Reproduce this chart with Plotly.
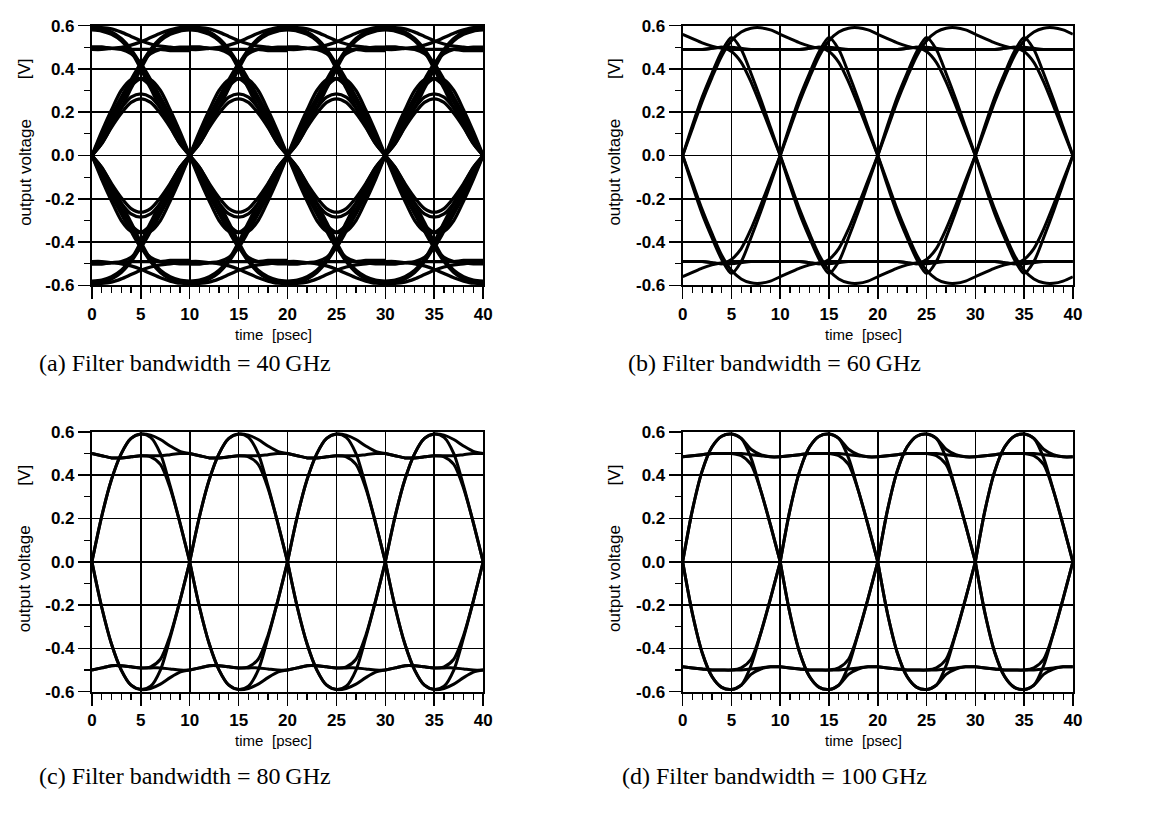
import plotly.graph_objects as go

# ---------------- data ----------------
t_bit = [0, 1, 2, 3, 4, 5, 6, 7, 8, 9, 10]          # psec inside one bit slot
period_starts = [0, 10, 20, 30]                      # bit slots shown
x_tick_vals = [0, 5, 10, 15, 20, 25, 30, 35, 40]
y_tick_vals = [-0.6, -0.4, -0.2, 0.0, 0.2, 0.4, 0.6]
y_tick_text = ["-0.6", "-0.4", "-0.2", "0.0", "0.2", "0.4", "0.6"]
captions = ["(a) Filter bandwidth = 40\u2009GHz", "(b) Filter bandwidth = 60\u2009GHz",
            "(c) Filter bandwidth = 80\u2009GHz", "(d) Filter bandwidth = 100\u2009GHz"]

# (a) 40 GHz : trace segments over one slot [V]
a_rise        = [0.00, 0.08, 0.165, 0.25, 0.335, 0.42, 0.49, 0.54, 0.57, 0.585, 0.59]
a_rise_b      = [0.00, 0.055, 0.135, 0.22, 0.31, 0.40, 0.48, 0.53, 0.56, 0.575, 0.58]
a_fall        = [0.59, 0.585, 0.57, 0.54, 0.49, 0.42, 0.335, 0.25, 0.165, 0.08, 0.00]
a_fall_b      = [0.58, 0.575, 0.56, 0.53, 0.48, 0.40, 0.31, 0.22, 0.135, 0.055, 0.00]
a_rise_flat   = [0.00, 0.095, 0.185, 0.27, 0.35, 0.425, 0.47, 0.49, 0.495, 0.50, 0.50]
a_flat_fall   = [0.50, 0.50, 0.495, 0.49, 0.47, 0.425, 0.35, 0.27, 0.185, 0.095, 0.00]
a_arc_low     = [0.00, 0.07, 0.15, 0.22, 0.27, 0.285, 0.27, 0.22, 0.15, 0.07, 0.00]
a_arc_low2    = [0.00, 0.055, 0.13, 0.195, 0.245, 0.262, 0.245, 0.195, 0.13, 0.055, 0.00]
a_arc_mid     = [0.00, 0.08, 0.165, 0.25, 0.32, 0.355, 0.35, 0.30, 0.21, 0.11, 0.00]
a_arc_mid2    = [0.00, 0.11, 0.21, 0.30, 0.35, 0.355, 0.32, 0.25, 0.165, 0.08, 0.00]
a_top_settle  = [0.59, 0.59, 0.585, 0.57, 0.55, 0.53, 0.515, 0.505, 0.50, 0.495, 0.49]
a_flat        = [0.50, 0.50, 0.495, 0.495, 0.49, 0.49, 0.49, 0.49, 0.485, 0.485, 0.485]
a_flat_rise   = [0.49, 0.49, 0.495, 0.50, 0.51, 0.525, 0.545, 0.565, 0.58, 0.59, 0.59]
a_rise_n      = [0.00, -0.08, -0.165, -0.25, -0.335, -0.42, -0.49, -0.54, -0.57, -0.585, -0.59]
a_rise_b_n    = [0.00, -0.055, -0.135, -0.22, -0.31, -0.40, -0.48, -0.53, -0.56, -0.575, -0.58]
a_fall_n      = [-0.59, -0.585, -0.57, -0.54, -0.49, -0.42, -0.335, -0.25, -0.165, -0.08, 0.00]
a_fall_b_n    = [-0.58, -0.575, -0.56, -0.53, -0.48, -0.40, -0.31, -0.22, -0.135, -0.055, 0.00]
a_rise_flat_n = [0.00, -0.095, -0.185, -0.27, -0.35, -0.425, -0.47, -0.49, -0.495, -0.50, -0.50]
a_flat_fall_n = [-0.50, -0.50, -0.495, -0.49, -0.47, -0.425, -0.35, -0.27, -0.185, -0.095, 0.00]
a_arc_low_n   = [0.00, -0.07, -0.15, -0.22, -0.27, -0.285, -0.27, -0.22, -0.15, -0.07, 0.00]
a_arc_low2_n  = [0.00, -0.055, -0.13, -0.195, -0.245, -0.262, -0.245, -0.195, -0.13, -0.055, 0.00]
a_arc_mid_n   = [0.00, -0.08, -0.165, -0.25, -0.32, -0.355, -0.35, -0.30, -0.21, -0.11, 0.00]
a_arc_mid2_n  = [0.00, -0.11, -0.21, -0.30, -0.35, -0.355, -0.32, -0.25, -0.165, -0.08, 0.00]
a_top_settle_n = [-0.59, -0.59, -0.585, -0.57, -0.55, -0.53, -0.515, -0.505, -0.50, -0.495, -0.49]
a_flat_n      = [-0.50, -0.50, -0.495, -0.495, -0.49, -0.49, -0.49, -0.49, -0.485, -0.485, -0.485]
a_flat_rise_n = [-0.49, -0.49, -0.495, -0.50, -0.51, -0.525, -0.545, -0.565, -0.58, -0.59, -0.59]

# (b) 60 GHz
b_arc         = [0.00, 0.14, 0.27, 0.38, 0.48, 0.545, 0.49, 0.38, 0.26, 0.13, 0.00]
b_rise_hold   = [0.00, 0.125, 0.25, 0.36, 0.46, 0.53, 0.57, 0.588, 0.59, 0.58, 0.56]
b_after_peak  = [0.56, 0.54, 0.52, 0.505, 0.495, 0.49, 0.49, 0.49, 0.49, 0.49, 0.49]
b_hold        = [0.49, 0.49, 0.49, 0.495, 0.50, 0.50, 0.495, 0.49, 0.49, 0.49, 0.49]
b_hold_fall   = [0.49, 0.49, 0.49, 0.495, 0.50, 0.48, 0.43, 0.34, 0.23, 0.115, 0.00]
b_arc_n       = [0.00, -0.14, -0.27, -0.38, -0.48, -0.545, -0.49, -0.38, -0.26, -0.13, 0.00]
b_rise_hold_n = [0.00, -0.125, -0.25, -0.36, -0.46, -0.53, -0.57, -0.588, -0.59, -0.58, -0.56]
b_after_peak_n = [-0.56, -0.54, -0.52, -0.505, -0.495, -0.49, -0.49, -0.49, -0.49, -0.49, -0.49]
b_hold_n      = [-0.49, -0.49, -0.49, -0.495, -0.50, -0.50, -0.495, -0.49, -0.49, -0.49, -0.49]
b_hold_fall_n = [-0.49, -0.49, -0.49, -0.495, -0.50, -0.48, -0.43, -0.34, -0.23, -0.115, 0.00]

# (c) 80 GHz
c_arc         = [0.00, 0.21, 0.38, 0.50, 0.57, 0.59, 0.575, 0.50, 0.35, 0.18, 0.00]
c_rise_hold   = [0.00, 0.21, 0.38, 0.50, 0.57, 0.59, 0.585, 0.565, 0.535, 0.51, 0.50]
c_hold_fall   = [0.50, 0.49, 0.48, 0.48, 0.485, 0.49, 0.485, 0.45, 0.34, 0.18, 0.00]
c_hold        = [0.50, 0.49, 0.48, 0.48, 0.485, 0.49, 0.49, 0.49, 0.495, 0.50, 0.50]
c_arc_n       = [0.00, -0.21, -0.38, -0.50, -0.57, -0.59, -0.575, -0.50, -0.35, -0.18, 0.00]
c_rise_hold_n = [0.00, -0.21, -0.38, -0.50, -0.57, -0.59, -0.585, -0.565, -0.535, -0.51, -0.50]
c_hold_fall_n = [-0.50, -0.49, -0.48, -0.48, -0.485, -0.49, -0.485, -0.45, -0.34, -0.18, 0.00]
c_hold_n      = [-0.50, -0.49, -0.48, -0.48, -0.485, -0.49, -0.49, -0.49, -0.495, -0.50, -0.50]

# (d) 100 GHz
d_arc         = [0.00, 0.24, 0.42, 0.53, 0.58, 0.59, 0.57, 0.48, 0.33, 0.17, 0.00]
d_rise_hold   = [0.00, 0.24, 0.42, 0.53, 0.58, 0.59, 0.57, 0.52, 0.495, 0.485, 0.485]
d_hold_fall   = [0.485, 0.49, 0.495, 0.50, 0.50, 0.50, 0.49, 0.45, 0.33, 0.17, 0.00]
d_hold        = [0.485, 0.49, 0.495, 0.50, 0.50, 0.50, 0.50, 0.495, 0.49, 0.485, 0.485]
d_arc_n       = [0.00, -0.24, -0.42, -0.53, -0.58, -0.59, -0.57, -0.48, -0.33, -0.17, 0.00]
d_rise_hold_n = [0.00, -0.24, -0.42, -0.53, -0.58, -0.59, -0.57, -0.52, -0.495, -0.485, -0.485]
d_hold_fall_n = [-0.485, -0.49, -0.495, -0.50, -0.50, -0.50, -0.49, -0.45, -0.33, -0.17, 0.00]
d_hold_n      = [-0.485, -0.49, -0.495, -0.50, -0.50, -0.50, -0.50, -0.495, -0.49, -0.485, -0.485]

panel_a = [a_rise, a_rise_b, a_fall, a_fall_b, a_rise_flat, a_flat_fall, a_arc_low, a_arc_low2,
           a_arc_mid, a_arc_mid2, a_top_settle, a_flat, a_flat_rise,
           a_rise_n, a_rise_b_n, a_fall_n, a_fall_b_n, a_rise_flat_n, a_flat_fall_n, a_arc_low_n,
           a_arc_low2_n, a_arc_mid_n, a_arc_mid2_n, a_top_settle_n, a_flat_n, a_flat_rise_n]
panel_b = [b_arc, b_rise_hold, b_after_peak, b_hold, b_hold_fall,
           b_arc_n, b_rise_hold_n, b_after_peak_n, b_hold_n, b_hold_fall_n]
panel_c = [c_arc, c_rise_hold, c_hold_fall, c_hold, c_arc_n, c_rise_hold_n, c_hold_fall_n, c_hold_n]
panel_d = [d_arc, d_rise_hold, d_hold_fall, d_hold, d_arc_n, d_rise_hold_n, d_hold_fall_n, d_hold_n]

# ---------------- figure ----------------
W, H = 1154, 815
SANS = "Liberation Sans, Arial, sans-serif"
SERIF = "Liberation Serif, DejaVu Serif, serif"

# plot-area boxes in pixels: (left, right, top, bottom)
boxes = [(88, 484, 17, 283), (686, 1081, 17, 283), (88, 484, 433, 699), (686, 1081, 433, 699)]
panels = [panel_a, panel_b, panel_c, panel_d]
widths = [3.3, 3.0, 3.0, 3.0]

fig = go.Figure()
layout = dict(width=W, height=H, margin=dict(l=0, r=0, t=0, b=0), hovermode=False,
              paper_bgcolor="white", plot_bgcolor="white", showlegend=False)

for i, (segs, box) in enumerate(zip(panels, boxes)):
    xs, ys = [], []
    for s in period_starts:
        for seg in segs:
            xs += [s + t for t in t_bit] + [None]
            ys += list(seg) + [None]
    n = "" if i == 0 else str(i + 1)
    fig.add_trace(go.Scatter(x=xs, y=ys, mode="lines", xaxis="x" + n, yaxis="y" + n,
                             line=dict(color="black", width=widths[i], shape="spline", smoothing=0.8),
                             hoverinfo="skip"))
    L, R, T, B = box
    common = dict(showgrid=True, gridcolor="black", gridwidth=1.6, zeroline=False,
                  showline=True, linecolor="black", linewidth=2, mirror=True,
                  ticks="outside", ticklen=12, tickwidth=1.5, tickcolor="black",
                  tickfont=dict(family=SANS, size=17, color="black", weight="bold"))
    layout["xaxis" + n] = dict(common, domain=[L / W, R / W], range=[0, 40],
                               tickvals=x_tick_vals, anchor="y" + n,
                               minor=dict(dtick=1, ticks="outside", ticklen=6, tickwidth=1.2,
                                          tickcolor="black", showgrid=False))
    layout["yaxis" + n] = dict(common, domain=[1 - B / H, 1 - T / H], range=[-0.6, 0.6],
                               tickvals=y_tick_vals, ticktext=y_tick_text, anchor="x" + n,
                               minor=dict(dtick=0.1, ticks="outside", ticklen=6, tickwidth=1.2,
                                          tickcolor="black", showgrid=False))

fig.update_layout(**layout)

ann = []
cap_pos = [(182, 362), (779, 362), (182, 785), (779, 785)]
for txt, (cx, cy) in zip(captions, cap_pos):
    ann.append(dict(text=txt, x=cx / W, y=1 - cy / H, xref="paper", yref="paper",
                    showarrow=False, font=dict(family=SERIF, size=24, color="black"),
                    xanchor="center", yanchor="middle"))
for dx, dy in [(0, 0), (597, 0), (0, 416), (597, 416)]:
    ann.append(dict(text="time", x=(247 + dx) / W, y=1 - (333 + dy) / H, xref="paper", yref="paper",
                    showarrow=False, font=dict(family=SANS, size=15, color="black"),
                    xanchor="center", yanchor="middle"))
    ann.append(dict(text="[psec]", x=(291 + dx) / W, y=1 - (333 + dy) / H, xref="paper", yref="paper",
                    showarrow=False, font=dict(family=SANS, size=15, color="black"),
                    xanchor="center", yanchor="middle"))
    ann.append(dict(text="output voltage", x=(20 + dx) / W, y=1 - (167 + dy) / H, xref="paper",
                    yref="paper", showarrow=False, textangle=-90,
                    font=dict(family=SANS, size=17, color="black"),
                    xanchor="center", yanchor="middle"))
    ann.append(dict(text="[V]", x=(20 + dx) / W, y=1 - (61 + dy) / H, xref="paper",
                    yref="paper", showarrow=False, textangle=-90,
                    font=dict(family=SANS, size=17, color="black"),
                    xanchor="center", yanchor="middle"))
fig.update_layout(annotations=ann)

fig.write_html("out.html", config={"displayModeBar": False, "staticPlot": True},
               post_script="document.body.style.margin='0px';")
